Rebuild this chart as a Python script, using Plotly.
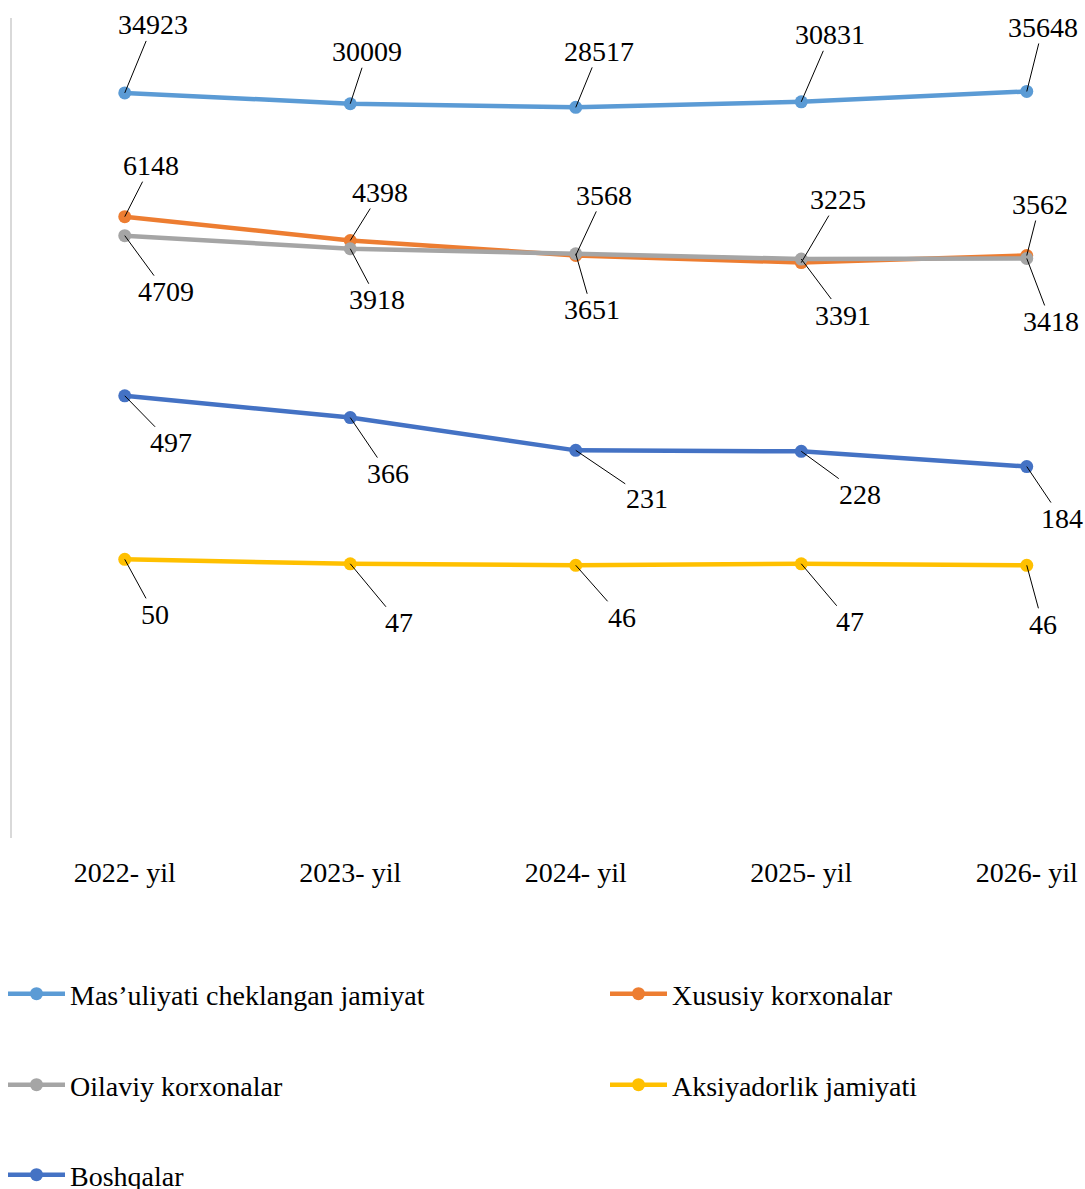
import plotly.graph_objects as go
import math

years = ["2022- yil", "2023- yil", "2024- yil", "2025- yil", "2026- yil"]
series_names = ["Mas\u2019uliyati cheklangan jamiyat", "Xususiy korxonalar",
                "Oilaviy korxonalar", "Aksiyadorlik jamiyati", "Boshqalar"]
mcj = [34923, 30009, 28517, 30831, 35648]
xususiy = [6148, 4398, 3568, 3225, 3562]
oilaviy = [4709, 3918, 3651, 3391, 3418]
aksiyadorlik = [50, 47, 46, 47, 46]
boshqalar = [497, 366, 231, 228, 184]

values = [mcj, xususiy, oilaviy, aksiyadorlik, boshqalar]
colors = ["#5B9BD5", "#ED7D31", "#A5A5A5", "#FFC000", "#4472C4"]
legend_ids = ["legend", "legend2", "legend3", "legend4", "legend5"]

# legend entry anchor positions in page pixels (left, vertical centre)
legend_pos = [(3, 994), (605, 994), (3, 1085), (605, 1085), (3, 1175)]

# label offsets (pixels) for the data-label callouts
label_offsets = [
    [(28, -68), (17, -52), (23, -56), (29, -67), (16, -64)],
    [(26, -51), (30, -48), (28, -60), (37, -63), (13, -51)],
    [(41, 56), (27, 51), (16, 56), (42, 56), (24, 63)],
    [(30, 55), (49, 59), (46, 52), (49, 58), (16, 59)],
    [(46, 47), (38, 56), (71, 48), (59, 43), (35, 52)],
]

FONT = "Times New Roman, Liberation Serif, serif"
FS = 28

fig = go.Figure()
for name, vals, col, lg in zip(series_names, values, colors, legend_ids):
    fig.add_trace(go.Scatter(
        x=list(range(len(years))), y=vals, name=name, mode="lines+markers",
        line=dict(color=col, width=4.5), marker=dict(color=col, size=13),
        legend=lg, hoverinfo="skip"))

annotations = []
for vals, offs in zip(values, label_offsets):
    for i, (v, (dx, dy)) in enumerate(zip(vals, offs)):
        annotations.append(dict(
            x=i, y=math.log10(v), xref="x", yref="y", text=str(v),
            showarrow=True, arrowhead=0, arrowwidth=1, arrowcolor="black",
            ax=dx, ay=dy, standoff=0, borderpad=0,
            font=dict(family=FONT, size=FS, color="black")))

W, H = 1085, 1189
L, T = 12, 18
plot_bottom = 838
B = H - plot_bottom
plot_h = H - T - B
plot_w = W - L
step = 225.5
x_right = -0.5 + plot_w / step

legends = {}
for lg, (px, pyy) in zip(legend_ids, legend_pos):
    legends[lg] = dict(orientation="h", xanchor="left", yanchor="middle",
                       x=(px - L) / plot_w,
                       y=(plot_bottom - pyy) / plot_h,
                       font=dict(family=FONT, size=FS, color="black"),
                       itemwidth=57, bgcolor="rgba(0,0,0,0)")

fig.update_layout(
    width=W, height=H,
    margin=dict(l=L, r=0, t=T, b=B, autoexpand=False),
    paper_bgcolor="white", plot_bgcolor="white",
    font=dict(family=FONT, size=FS, color="black"),
    showlegend=True,
    annotations=annotations,
    xaxis=dict(tickmode="array", tickvals=list(range(len(years))), ticktext=years,
               range=[-0.5, x_right], showgrid=False, zeroline=False,
               showline=False, ticks="", ticklabelstandoff=15,
               tickfont=dict(family=FONT, size=FS, color="black")),
    yaxis=dict(type="log", range=[0, 5], showgrid=False, zeroline=False,
               showticklabels=False, ticks="", showline=True,
               linecolor="#D9D9D9", linewidth=2),
    **legends,
)

fig.write_html("out.html",
               config={"displayModeBar": False},
               post_script="document.body.style.margin='0px';"
                           "document.body.style.overflow='hidden';")
